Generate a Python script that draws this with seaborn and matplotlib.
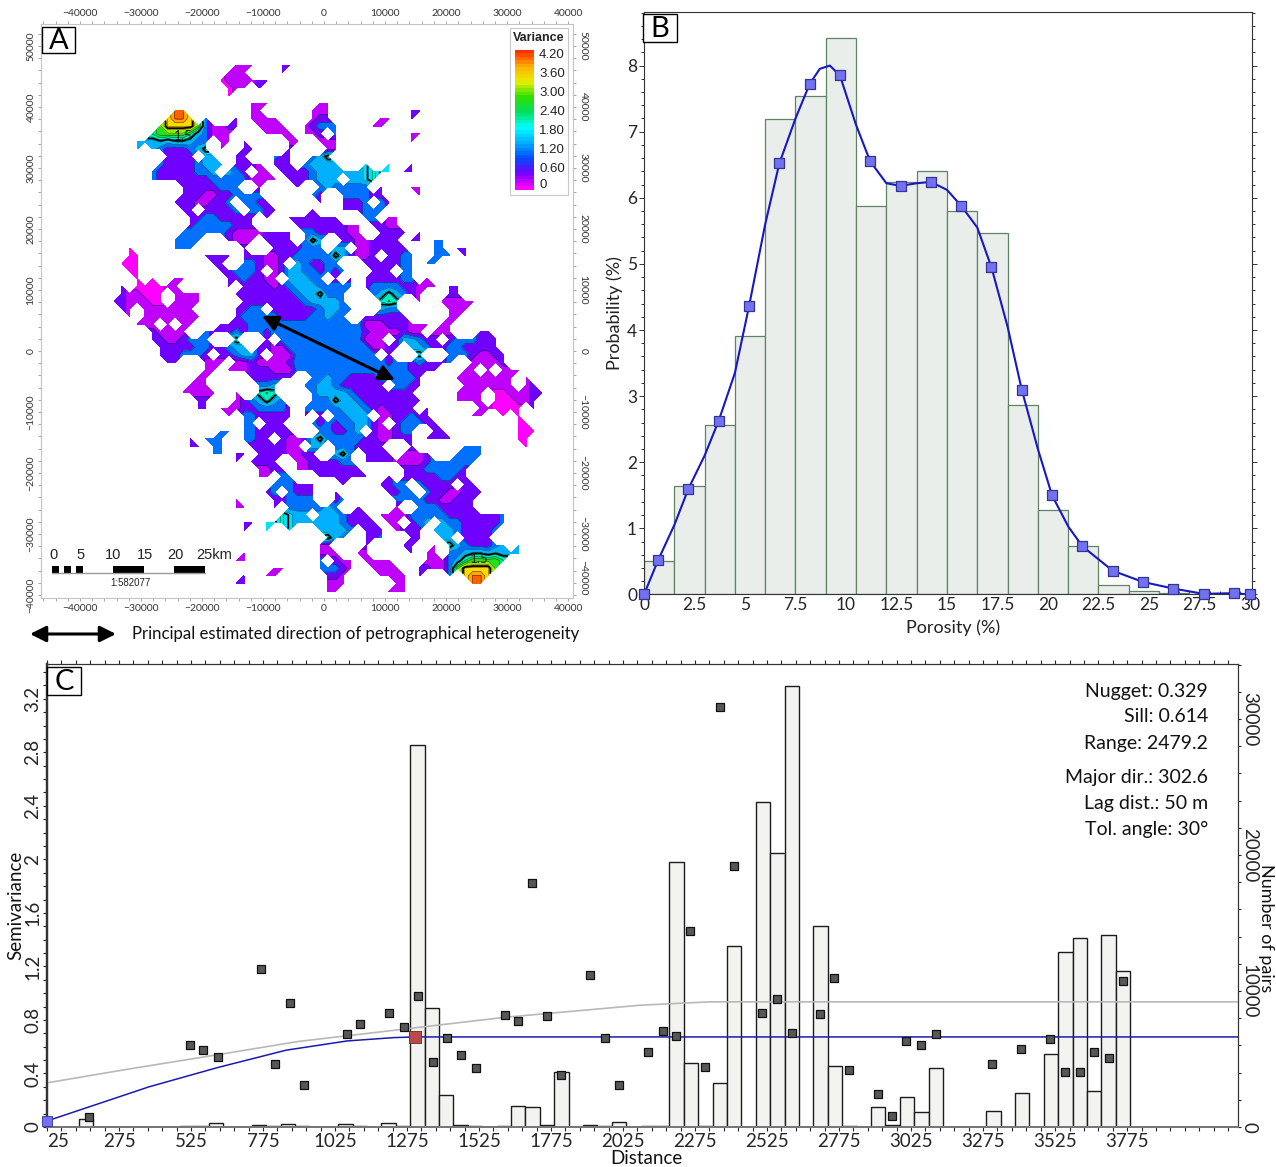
import numpy as np
import matplotlib as mpl
import matplotlib.pyplot as plt
import seaborn as sns
from matplotlib.patches import Rectangle
from matplotlib.ticker import AutoMinorLocator, MultipleLocator

W, H = 1276, 1167

###################### PANEL A DATA ###########################
# variance class of every node on the variogram map, read as runs: (row, first column, classes)
VARIANCE = {'m': 0.1, 'v': 0.3, 'p': 0.6, 'b': 0.9, 's': 1.2, 'c': 1.45, 'C': 1.7, 't': 2.0, 'g': 2.5, 'y': 3.2, 'o': 3.8}
MAP_RUNS = [
    (37, -12, "vvv"), (37, -6, "pp"),
    (36, -13, "vvv"), (36, -6, "p"),
    (35, -14, "mvvvvpp"),
    (34, -13, "mvv"), (34, -9, "p"),
    (33, -13, "m"),
    (32, -10, "vvv"), (32, -1, "vv"),
    (31, -20, "oo"), (31, -10, "vv"), (31, -2, "vvv"), (31, 11, "pp"),
    (30, -21, "yooy"), (30, -16, "b"), (30, -12, "p"), (30, -10, "vvvv"), (30, -2, "vpp"), (30, 7, "vv"), (30, 11, "p"),
    (29, -22, "gyyyygb"), (29, -15, "vvpp"), (29, -9, "vvvv"), (29, -3, "vpbbb"), (29, 6, "vv"),
    (28, -23, "tggggtsb"), (28, -15, "vvv"), (28, -8, "vvvv"), (28, -3, "vvp"), (28, 1, "b"), (28, 11, "vv"),
    (27, -25, "ssscsccsbb"), (27, -14, "vv"), (27, -11, "p"), (27, -5, "vv"), (27, -1, "vvv"), (27, 11, "v"),
    (26, -25, "s"), (26, -23, "sbpppbsC"), (26, -14, "v"), (26, -11, "pp"), (26, -5, "p"), (26, 0, "vv"),
    (25, -21, "pppp"), (25, -16, "ss"), (25, -12, "pp"), (25, -7, "bpp"), (25, -2, "bsC"),
    (24, -22, "bppppbsss"), (24, -12, "pppv"), (24, -7, "ppp"), (24, -3, "bssss"), (24, 5, "c"), (24, 8, "c"), (24, 11, "p"),
    (23, -23, "bpppppbbs"), (23, -13, "sbp"), (23, -9, "vv"), (23, -6, "ppppb"), (23, -1, "sssssscC"), (23, 7, "cc"), (23, 10, "pp"),
    (22, -23, "bpppppppbbbbb"), (22, -10, "vvvv"), (22, -5, "ppp"), (22, -2, "bsss"), (22, 3, "sscC"),
    (21, -19, "pppppbbb"), (21, -9, "v"), (21, -4, "p"), (21, -1, "bs"), (21, 1, "bbbbb"), (21, 7, "p"), (21, 11, "vv"),
    (20, -19, "pppvvppbbbb"), (20, -3, "bbp"), (20, 2, "bbbbpp"), (20, 12, "v"),
    (19, -20, "pppvvppb"), (19, -11, "bbpp"), (19, -1, "p"), (19, 2, "pppb"), (19, 7, "bp"),
    (18, -19, "pp"), (18, -16, "ppppb"), (18, -10, "bbpp"), (18, -2, "p"), (18, 2, "ppp"), (18, 5, "bbb"),
    (17, -18, "ppbbppppp"), (17, -8, "p"), (17, -5, "ppppppp"), (17, 5, "bb"), (17, 8, "vv"),
    (16, -18, "pbbbbbppp"), (16, -4, "pppppppvv"), (16, 6, "ppvv"),
    (15, -19, "bbbbbbpvvvvpp"), (15, -6, "pp"), (15, -3, "bbppppvv"), (15, 7, "pppp"), (15, 12, "p"),
    (14, -20, "bbbb"), (14, -13, "pvvv"), (14, -8, "pppp"), (14, -3, "bCs"), (14, 2, "ppvvpppp"), (14, 11, "pp"), (14, 14, "bb"),
    (13, -26, "m"), (13, -20, "bbb"), (13, -11, "p"), (13, -7, "pppp"), (13, -3, "bbb"), (13, 1, "ss"), (13, 4, "vvpppp"), (13, 10, "p"), (13, 14, "bb"), (13, 17, "pp"),
    (12, -26, "mm"), (12, -16, "pppp"), (12, -11, "ppp"), (12, -8, "vv"), (12, -6, "pp"), (12, -4, "bbbbb"), (12, 1, "Cs"), (12, 3, "pvvp"), (12, 8, "pp"), (12, 10, "bb"), (12, 14, "bbb"), (12, 18, "p"),
    (11, -27, "mmm"), (11, -15, "pp"), (11, -11, "bbpvvp"), (11, -4, "sbppb"), (11, 1, "b"), (11, 5, "ppppp"), (11, 10, "bb"), (11, 13, "bb"),
    (10, -26, "mm"), (10, -14, "ppbbbp"), (10, -7, "vpssbbpb"), (10, 1, "pb"), (10, 6, "ppp"), (10, 10, "bb"),
    (9, -25, "m"), (9, -23, "m"), (9, -20, "vv"), (9, -13, "ppbpp"), (9, -8, "vv"), (9, -5, "sssbb"), (9, 1, "p"), (9, 3, "p"), (9, 5, "pppppbb"), (9, 13, "v"),
    (8, -27, "p"), (8, -25, "mmmmvv"), (8, -13, "p"), (8, -11, "ppppvp"), (8, -5, "bsssbb"), (8, 1, "bb"), (8, 3, "b"), (8, 5, "pbbbbpp"), (8, 12, "vvv"), (8, 16, "pp"),
    (7, -27, "pvvmmm"), (7, -20, "vvvv"), (7, -12, "ppppppp"), (7, -5, "pbssCb"), (7, 1, "bb"), (7, 6, "bsCsbp"), (7, 12, "v"), (7, 16, "pp"),
    (6, -28, "ppvvvmm"), (6, -20, "vvvv"), (6, -11, "pppppppp"), (6, -3, "bsss"), (6, 1, "sb"), (6, 7, "CtC"), (6, 12, "v"), (6, 15, "vvvvv"),
    (5, -27, "pv"), (5, -24, "vvvvvvv"), (5, -12, "ppbb"), (5, -7, "ppppppbs"), (5, 1, "sbb"), (5, 7, "sbb"), (5, 13, "v"), (5, 16, "vvv"),
    (4, -26, "v"), (4, -24, "vvvvvvvv"), (4, -12, "pbbbbbppppbbs"), (4, 1, "bb"), (4, 5, "pppppp"), (4, 16, "vv"),
    (3, -25, "vvv"), (3, -21, "v"), (3, -19, "vv"), (3, -14, "ppp"), (3, -11, "pbbbbbbbbbbb"), (3, 1, "bbbb"), (3, 5, "vvvpppvvv"), (3, 15, "vv"),
    (2, -23, "pvvvv"), (2, -16, "bpppbpbb"), (2, -8, "pbbbbbbbb"), (2, 1, "bbbb"), (2, 5, "pvvvvpvv"), (2, 14, "vvv"), (2, 20, "pp"),
    (1, -23, "ppvvpbbb"), (1, -12, "C"), (1, -8, "p"), (1, -6, "bbbbbbb"), (1, 1, "bbbbvvv"), (1, 9, "pssbpp"), (1, 16, "pbbbppp"),
    (0, -22, "pppppbbppbss"), (0, -9, "ppvvbbbbbb"),
]
MAP_LEVELS = [0, 0.2, 0.45, 0.75, 1.05, 1.35, 1.65, 1.95, 2.25, 2.55, 2.85, 3.15, 3.45, 3.75, 4.2]
MAP_COLORS = ['#ff00ff', '#c000ff', '#7000ff', '#0070ff', '#00b0ff', '#00e0ff', '#00f0c0', '#00e878',
              '#20e020', '#90f000', '#e8f000', '#ffd800', '#ffa800', '#ff6000']
BAR_TICKS = ["4.20", "3.60", "3.00", "2.40", "1.80", "1.20", "0.60", "0"]
BAR_COLORS = ['#ff00ff', '#7000ff', '#0050ff', '#00b0ff', '#00ffff', '#00e060', '#30e000', '#e8f000', '#ffb000', '#ff3000']
SCALE_LABELS = ["0", "5", "10", "15", "20", "25km"]

###################### PANEL B DATA ###########################
POROSITY_EDGES = [0, 1.5, 3, 4.5, 6, 7.5, 9, 10.5, 12, 13.5, 15, 16.5, 18, 19.5, 21, 22.5, 24, 25.5, 27, 28.5, 30]
POROSITY_PROB = [0.5, 1.64, 2.57, 3.91, 7.19, 7.54, 8.42, 5.88, 6.24, 6.4, 5.8, 5.46, 2.86, 1.28, 0.74, 0.14, 0.05, 0.02, 0.01, 0.01]
CURVE_X = [0, 0.7, 1.5, 2.2, 3, 3.7, 4.5, 5.2, 6, 6.7, 7.5, 8.2, 8.7, 9.2, 9.7, 10.5, 11.2, 12, 12.7, 13.5, 14.2,
           15, 15.7, 16.5, 17.2, 18, 18.7, 19.5, 20.2, 21, 21.7, 23.2, 24.7, 26.2, 27.7, 29.2, 30]
CURVE_Y = [0, .52, 1.05, 1.6, 2.1, 2.63, 3.35, 4.36, 5.6, 6.52, 7.2, 7.72, 7.95, 8.0, 7.85, 7.1, 6.55, 6.22, 6.18, 6.22, 6.24,
           6.12, 5.88, 5.55, 4.95, 4.05, 3.1, 2.2, 1.5, 1.03, .73, .36, .19, .09, .01, .02, 0]
MARK_X = [0, 0.7, 2.2, 3.7, 5.2, 6.7, 8.2, 9.7, 11.2, 12.7, 14.2, 15.7, 17.2, 18.7, 20.2, 21.7, 23.2, 24.7, 26.2, 27.7, 29.2, 30]
MARK_Y = [0, .52, 1.6, 2.63, 4.36, 6.52, 7.72, 7.85, 6.55, 6.18, 6.24, 5.88, 4.95, 3.1, 1.5, .73, .36, .19, .09, .01, .02, 0]
B_XTICKS = [0, 2.5, 5, 7.5, 10, 12.5, 15, 17.5, 20, 22.5, 25, 27.5, 30]
B_XLABELS = ["0", "2.5", "5", "7.5", "10", "12.5", "15", "17.5", "20", "22.5", "25", "27.5", "30"]

###################### PANEL C DATA ###########################
PAIR_DIST = [161, 511, 561, 611, 761, 811, 861, 911, 1061, 1111, 1211, 1261, 1311, 1361, 1411, 1461, 1511, 1611, 1661,
             1711, 1761, 1811, 1911, 1961, 2011, 2111, 2161, 2211, 2261, 2311, 2361, 2411, 2511, 2561, 2611, 2711,
             2761, 2811, 2911, 2961, 3011, 3061, 3111, 3311, 3411, 3511, 3561, 3611, 3661, 3711, 3761]
PAIR_COUNT = [600, 100, 100, 320, 120, 80, 220, 80, 220, 80, 320, 80, 28110, 8750, 2350, 120, 80, 80, 1520,
              1450, 120, 4070, 120, 80, 400, 80, 80, 19500, 4730, 80, 3230, 13300, 23900, 20170, 32400, 14800,
              4490, 80, 1450, 120, 2230, 1080, 4320, 1200, 2480, 5370, 12870, 13920, 2670, 14100, 11470]
SEMI_X = [171, 521, 568, 617, 769, 817, 867, 916, 1067, 1113, 1214, 1263, 1313, 1364, 1414, 1463, 1513, 1615, 1660, 1709,
          1761, 1810, 1910, 1961, 2011, 2111, 2162, 2209, 2258, 2308, 2360, 2410, 2509, 2558, 2610, 2709, 2757, 2808,
          2909, 2958, 3007, 3059, 3110, 3306, 3407, 3507, 3559, 3610, 3660, 3711, 3761]
SEMI_Y = [.075, .61, .574, .52, 1.18, .47, .93, .314, .693, .773, .855, .748, .98, .486, .666, .54, .44, .835, .793, 1.82,
          .828, .387, 1.135, .666, .314, .559, .718, .68, 1.466, .449, 3.135, 1.948, .855, .953, .703, .848, 1.115, .424,
          .244, .08, .641, .611, .693, .469, .586, .658, .414, .414, .559, .514, 1.09]
MODEL_X = [25, 379, 617, 855, 1067, 1229, 1302, 4160]
MODEL_Y = [.045, .3, .444, .574, .643, .668, .673, .673]
TREND_X = [25, 300, 617, 900, 1279, 1615, 2084, 2323, 4160]
TREND_Y = [.33, .43, .54, .64, .735, .82, .91, .935, .935]
C_XTICKS = list(range(25, 4000, 250))
C_YTICKS = [0, 0.4, 0.8, 1.2, 1.6, 2, 2.4, 2.8, 3.2]
C_YLABELS = ["0", "0.4", "0.8", "1.2", "1.6", "2", "2.4", "2.8", "3.2"]
STATS = ["Nugget: 0.329", "Sill: 0.614", "Range: 2479.2", "Major dir.: 302.6", "Lag dist.: 50 m", "Tol. angle: 30°"]

###################### SETUP ###########################
sns.set_theme(style="ticks")
plt.rcParams['font.family'] = ['Lato', 'DejaVu Sans']
fig = plt.figure(figsize=(W / 100, H / 100), dpi=100)


def px_axes(left, top, right, bottom, **kw):
    return fig.add_axes([left / W, 1 - bottom / H, (right - left) / W, (bottom - top) / H], **kw)


###################### PANEL A ###########################
ax_a = px_axes(41, 24, 573, 598)
cols = np.arange(-28, 29)
rows = np.arange(-32, 38)
grid = np.full((len(rows), len(cols)), np.nan)
for row, col, classes in MAP_RUNS:
    for offset, name in enumerate(classes):
        grid[row + 32, col + 28 + offset] = VARIANCE[name]
        # the variogram map is point symmetric around its centre
        if -row >= -32:
            grid[-row + 32, -(col + offset) + 28] = VARIANCE[name]
grid = np.ma.masked_invalid(grid)
map_x = 625 + 1250 * cols
map_y = 625 + 1250 * rows
ax_a.contourf(map_x, map_y, grid, levels=MAP_LEVELS, colors=MAP_COLORS, corner_mask=True)
ax_a.contour(map_x, map_y, grid, levels=MAP_LEVELS[1:], colors='black', linewidths=0.25, corner_mask=True)
ax_a.contour(map_x, map_y, grid, levels=[1.5, 3.0], colors='black', linewidths=1.3, corner_mask=True)
ax_a.set_xlim(-46400, 40800)
ax_a.set_ylim(-40500, 53600)
ax_a.set_xticks(np.arange(-40000, 40001, 10000))
ax_a.set_yticks(np.arange(-40000, 50001, 10000))
ax_a.xaxis.set_minor_locator(AutoMinorLocator(5))
ax_a.yaxis.set_minor_locator(AutoMinorLocator(5))
ax_a.tick_params(which='both', top=True, right=True, labeltop=True, labelright=True, color='#999999',
                 labelcolor='#333333', labelsize=7.5, direction='out', length=2.5, width=0.6, pad=1.5)
ax_a.tick_params(axis='y', labelrotation=90)
for label in ax_a.get_yticklabels():
    label.set_va('center')
for tick in ax_a.yaxis.get_major_ticks():
    tick.label2.set_rotation(270)
    tick.label2.set_va('center')
# the lowest label on the right sits above its tick, clear of the 40000 below it
ax_a.yaxis.get_major_ticks()[0].label2.set_va('bottom')
for side in ax_a.spines.values():
    side.set_color('#c4c4c4')
    side.set_linewidth(0.8)

###################### PANEL B ###########################
ax_b = px_axes(644, 12, 1252, 594.5)
centers = (np.array(POROSITY_EDGES[:-1]) + np.array(POROSITY_EDGES[1:])) / 2
sns.histplot(x=centers, weights=POROSITY_PROB, bins=POROSITY_EDGES, color='#e9eeea', edgecolor='#5f8363',
             linewidth=0.9, alpha=1, ax=ax_b)
sns.lineplot(x=CURVE_X, y=CURVE_Y, color='#1717c8', linewidth=1.5, sort=False, ax=ax_b)
sns.scatterplot(x=MARK_X, y=MARK_Y, marker='s', s=50, color='#7272f0', edgecolor='#33339a', linewidth=0.9, ax=ax_b,
                zorder=5, clip_on=False)
ax_b.set_xlim(0, 30.1)
ax_b.set_ylim(0, 8.81)
ax_b.set_xticks(B_XTICKS, B_XLABELS)
ax_b.set_yticks(range(0, 9))
ax_b.yaxis.set_minor_locator(AutoMinorLocator(5))
ax_b.xaxis.set_minor_locator(MultipleLocator(0.5))
ax_b.tick_params(which='both', right=True, direction='out', width=0.7, length=2.5, labelsize=12.5, pad=1.5, color='#333333')
ax_b.tick_params(axis='x', which='both', direction='in')
ax_b.tick_params(axis='y', which='major', length=3.5)
ax_b.set_xlabel("")
ax_b.set_ylabel("")
for side in ax_b.spines.values():
    side.set_linewidth(0.8)
    side.set_color('#333333')

###################### PANEL C ###########################
ax_pairs = px_axes(47, 664, 1238, 1127)
ax_c = ax_pairs.twinx()
ax_c.yaxis.tick_left()
ax_pairs.yaxis.tick_right()
ax_c.set_zorder(ax_pairs.get_zorder() + 1)
ax_c.patch.set_visible(False)
sns.histplot(x=PAIR_DIST, weights=PAIR_COUNT, bins=list(np.arange(136, 3787, 50)), color='#f3f4f1', edgecolor='#1c1c1c',
             linewidth=1.0, alpha=1, ax=ax_pairs)
sns.lineplot(x=TREND_X, y=TREND_Y, color='#b8b8b8', linewidth=1.2, ax=ax_c)
sns.lineplot(x=MODEL_X, y=MODEL_Y, color='#1a1ab0', linewidth=1.1, ax=ax_c)
sns.scatterplot(x=SEMI_X, y=SEMI_Y, marker='s', s=36, color='#575757', edgecolor='#111111', linewidth=0.9, ax=ax_c, zorder=5)
sns.scatterplot(x=[MODEL_X[0]], y=[MODEL_Y[0]], marker='s', s=60, color='#7272f0', edgecolor='#33339a', linewidth=0.6,
                ax=ax_c, zorder=6, clip_on=False)
sns.scatterplot(x=[MODEL_X[6]], y=[MODEL_Y[6]], marker='s', s=70, color='#b84a4a', edgecolor='#7a2020', linewidth=0.6,
                ax=ax_c, zorder=6)
ax_pairs.set_xlim(25, 4160)
ax_pairs.set_ylim(0, 34040)
ax_c.set_ylim(0, 3.46)
ax_pairs.set_xticks(C_XTICKS)
ax_pairs.xaxis.set_minor_locator(AutoMinorLocator(5))
ax_pairs.set_yticks([0, 10000, 20000, 30000])
ax_pairs.yaxis.set_minor_locator(AutoMinorLocator(5))
ax_c.set_yticks(C_YTICKS, C_YLABELS)
ax_c.yaxis.set_minor_locator(AutoMinorLocator(4))
ax_pairs.tick_params(axis='x', which='both', top=True, direction='out', width=0.8, length=3, labelsize=13.5, pad=1)
ax_pairs.tick_params(axis='y', which='both', direction='out', width=0.8, length=2, labelsize=13.5, pad=0, labelrotation=270)
ax_c.tick_params(axis='y', which='both', direction='out', width=0.8, length=3, labelsize=13.5, pad=1, labelrotation=90)
ax_pairs.get_xticklabels()[0].set_ha('left')
for label in ax_c.get_yticklabels() + ax_pairs.get_yticklabels():
    label.set_va('center')
ax_pairs.set_xlabel("")
ax_pairs.set_ylabel("")
ax_c.set_ylabel("")
ax_c.set_xlabel("")
for axis in (ax_pairs, ax_c):
    for side in axis.spines.values():
        side.set_color('#333333')
        side.set_linewidth(0.8)
    axis.spines['left'].set_linewidth(1.6)
    axis.spines['bottom'].set_linewidth(1.4)
    axis.spines['bottom'].set_color('#777777')

###################### ANNOTATIONS ###########################
# an overlay in image pixels holds the labels and the scale bar
over = fig.add_axes([0, 0, 1, 1], zorder=20)
over.set_xlim(0, W)
over.set_ylim(H, 0)
over.axis('off')

for name, left, top, right, bottom in [("A", 42, 27, 75, 53), ("B", 643, 14, 677, 42), ("C", 47, 667, 81, 695)]:
    over.add_patch(Rectangle((left, top), right - left, bottom - top, facecolor='white', edgecolor='black', linewidth=1))
    over.text((left + right) / 2, (top + bottom) / 2 + 1, name, fontsize=21, ha='center', va='center', color='black')


def both_arrow(x0, y0, x1, y1, width):
    over.annotate("", xy=(x1, y1), xytext=(x0, y0),
                  arrowprops=dict(arrowstyle='<|-|>', color='black', linewidth=width, mutation_scale=24, shrinkA=0, shrinkB=0))


both_arrow(262, 316, 395, 380, 2.2)
both_arrow(30, 634, 116, 634, 2.2)
over.text(132, 634, "Principal estimated direction of petrographical heterogeneity", fontsize=12.05, va='center', color='#111111')
over.text(183, 136, "1.5", fontsize=9.5, ha='center', va='center', color='#222222')
over.text(479, 559, "1.5", fontsize=9.5, ha='center', va='center', color='#222222')

# colour key of the map
over.add_patch(Rectangle((510, 28), 58, 167, facecolor='white', edgecolor='#c8c8c8', linewidth=0.8))
over.text(539, 38, "Variance", fontsize=9, fontweight='bold', family=['Liberation Sans'], ha='center', va='center', color='#222222')
key = px_axes(515, 50, 534, 190, zorder=21)
key_cmap = mpl.colors.LinearSegmentedColormap.from_list('variance', BAR_COLORS, N=40)
key.imshow(np.arange(40)[::-1, None], cmap=key_cmap, aspect='auto')
key.axis('off')
for label, ypos in zip(BAR_TICKS, [55, 74, 93, 112, 131, 150, 169, 185]):
    over.text(539, ypos, label, fontsize=9.5, family=['Liberation Sans'], va='center', color='#222222')

# scale bar of the map
for left, right in [(52, 59), (64, 71), (76, 83), (113, 144), (174, 205)]:
    over.add_patch(Rectangle((left, 566), right - left, 7, facecolor='black', edgecolor='none'))
over.plot([52, 205], [573, 573], color='#999999', linewidth=1)
for label, xpos in zip(SCALE_LABELS, [54, 81, 113, 145, 175, 214]):
    over.text(xpos, 555, label, fontsize=10.5, family=['Liberation Sans'], ha='center', va='center', color='#222222')
over.text(130, 583, "1:582077", fontsize=7, family=['Liberation Sans'], ha='center', va='center', color='#222222')

over.text(615, 313, "Probability (%)", fontsize=13, rotation=90, ha='center', va='center', color='#222222')
over.text(953, 628, "Porosity (%)", fontsize=13, ha='center', va='center', color='#222222')
over.text(16, 905, "Semivariance", fontsize=13.5, rotation=90, ha='center', va='center', color='#111111')
over.text(1266, 928, "Number of pairs", fontsize=13, rotation=270, ha='center', va='center', color='#111111')
over.text(646, 1158, "Distance", fontsize=13.5, ha='center', va='center', color='#111111')
for label, ypos in zip(STATS, [691, 717, 743, 777, 803, 829]):
    over.text(1208, ypos, label, fontsize=14, ha='right', va='center', color='#111111')

fig.savefig('out.png', dpi=100)
